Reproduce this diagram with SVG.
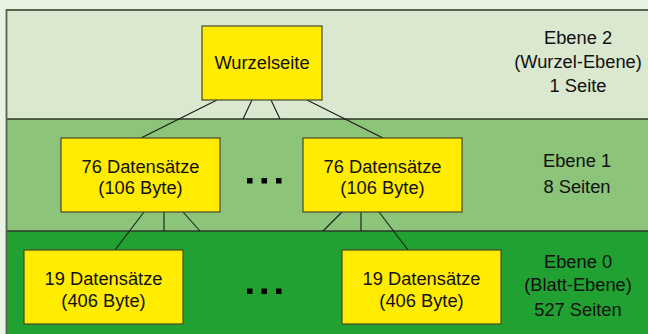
<svg xmlns="http://www.w3.org/2000/svg" width="648" height="334" viewBox="0 0 648 334">
<style>
.box{fill:#FFEC00;stroke:#4A4A28;stroke-width:1.2}
.t{font-family:"Liberation Sans",Arial,sans-serif;font-size:18.3px;fill:#111;text-anchor:middle}
.c{stroke:#1a1a1a;stroke-width:1.1;fill:none}
.sep{stroke:#2a3a28;stroke-width:1.3}
.dot{fill:#000}
</style>
<rect x="0" y="0" width="648" height="334" fill="#E9F3E3"/>
<g id="bands">
<rect x="6.5" y="10" width="642" height="109" fill="#D9E8CE"/>
<rect x="6.5" y="119" width="642" height="112" fill="#8CC47A"/>
<rect x="6.5" y="231" width="642" height="103" fill="#20A131"/>
<line class="sep" x1="6.5" y1="119" x2="648" y2="119"/>
<line class="sep" x1="6.5" y1="231" x2="648" y2="231"/>
<path d="M6.5,334 V10 H648" fill="none" stroke="#56644E" stroke-width="1.8"/>
</g>
<g id="connectors">
<line class="c" x1="217" y1="100" x2="141" y2="138"/>
<line class="c" x1="252" y1="100" x2="243" y2="119"/>
<line class="c" x1="271" y1="100" x2="280" y2="119"/>
<line class="c" x1="307" y1="100" x2="383" y2="138"/>
<line class="c" x1="144" y1="212" x2="115" y2="250"/>
<line class="c" x1="164" y1="212" x2="164" y2="231"/>
<line class="c" x1="183" y1="212" x2="200" y2="231"/>
<line class="c" x1="342" y1="212" x2="323" y2="231"/>
<line class="c" x1="361" y1="212" x2="361" y2="231"/>
<line class="c" x1="379" y1="212" x2="408" y2="250"/>
</g>
<g id="root">
<rect class="box" x="202" y="26" width="120" height="74"/>
<text class="t" x="262" y="69">Wurzelseite</text>
</g>
<g id="inner-left">
<rect class="box" x="61" y="138" width="159" height="74"/>
<text class="t" x="140.5" y="173">76 Datensätze</text>
<text class="t" x="140.5" y="194">(106 Byte)</text>
</g>
<g id="inner-dots">
<rect class="dot" x="247" y="178" width="5.5" height="5.5"/>
<rect class="dot" x="261.5" y="178" width="5.5" height="5.5"/>
<rect class="dot" x="276" y="178" width="5.5" height="5.5"/>
</g>
<g id="inner-right">
<rect class="box" x="303" y="138" width="159" height="74"/>
<text class="t" x="382.5" y="173">76 Datensätze</text>
<text class="t" x="382.5" y="194">(106 Byte)</text>
</g>
<g id="leaf-left">
<rect class="box" x="24" y="250" width="159" height="74"/>
<text class="t" x="103.5" y="284.5">19 Datensätze</text>
<text class="t" x="103.5" y="306.5">(406 Byte)</text>
</g>
<g id="leaf-dots">
<rect class="dot" x="247" y="288.5" width="5.5" height="5.5"/>
<rect class="dot" x="261.5" y="288.5" width="5.5" height="5.5"/>
<rect class="dot" x="276" y="288.5" width="5.5" height="5.5"/>
</g>
<g id="leaf-right">
<rect class="box" x="342" y="250" width="159" height="74"/>
<text class="t" x="421.5" y="284.5">19 Datensätze</text>
<text class="t" x="421.5" y="306.5">(406 Byte)</text>
</g>
<g id="label-2">
<text class="t" x="578" y="44">Ebene 2</text>
<text class="t" x="578" y="68">(Wurzel-Ebene)</text>
<text class="t" x="578" y="92">1 Seite</text>
</g>
<g id="label-1">
<text class="t" x="577" y="167">Ebene 1</text>
<text class="t" x="577" y="193">8 Seiten</text>
</g>
<g id="label-0">
<text class="t" x="578" y="267.5">Ebene 0</text>
<text class="t" x="578" y="291">(Blatt-Ebene)</text>
<text class="t" x="578" y="315.5">527 Seiten</text>
</g>
</svg>
